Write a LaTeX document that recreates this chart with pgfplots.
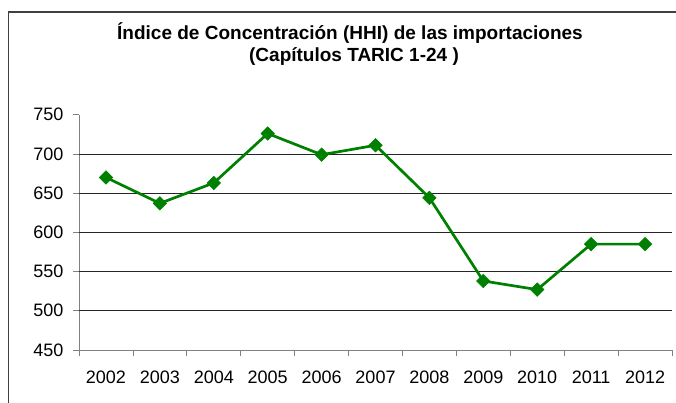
\documentclass[border=0pt]{standalone}
\usepackage{pgfplots}
\pgfplotsset{compat=1.18}
\usepackage{fontspec}
\setmainfont{Liberation Sans}
\definecolor{linegreen}{HTML}{008000}
\definecolor{gridgray}{HTML}{262626}

\begin{document}
\begin{tikzpicture}
  \useasboundingbox (0pt,0pt) rectangle (676pt,-403pt);
  % chart frame (top and left edges)
  \draw[black!75, line width=1.6pt] (8.5pt,-403pt) -- (8.5pt,-12pt) -- (676pt,-12pt);
  % title
  \node[anchor=base, font=\fontsize{19}{22}\selectfont\bfseries] at (350pt,-40pt) {Índice de Concentración (HHI) de las importaciones};
  \node[anchor=base, font=\fontsize{19}{22}\selectfont\bfseries] at (354pt,-62pt) {(Capítulos TARIC 1-24 )};
  \begin{axis}[
      at={(79pt,-350pt)}, anchor=south west,
      width=593pt, height=235.3pt, scale only axis,
      xmin=0, xmax=11, ymin=450, ymax=750,
      axis x line*=bottom, axis y line*=left,
      axis line style={draw=gray, line width=0.8pt},
      xtick={0.5,1.5,...,10.5},
      xticklabels={2002,2003,2004,2005,2006,2007,2008,2009,2010,2011,2012},
      minor xtick={0,1,...,11},
      major x tick style={draw=none},
      minor tick length=6pt,
      tick align=outside,
      ytick={450,500,...,750},
      major tick length=6pt,
      tick style={draw=gray, line width=0.8pt},
      extra y ticks={500,550,...,700},
      extra y tick labels={},
      extra y tick style={grid=major, major tick length=0pt},
      grid style={draw=gridgray, line width=0.8pt},
      ticklabel style={font=\fontsize{18}{20}\selectfont},
      xticklabel style={yshift=-11pt},
      yticklabel style={xshift=-6pt},
      /pgf/number format/assume math mode=true,
      clip=false,
    ]
    \addplot[color=linegreen, line width=2.7pt,
      mark=square*, mark size=4.8pt,
      mark options={rotate=45, fill=linegreen, draw=linegreen, line width=0.5pt}]
      coordinates {
        (0.5,670) (1.5,637) (2.5,663) (3.5,726) (4.5,699) (5.5,711)
        (6.5,644) (7.5,538) (8.5,527) (9.5,585) (10.5,585)
      };
  \end{axis}
\end{tikzpicture}
\end{document}
